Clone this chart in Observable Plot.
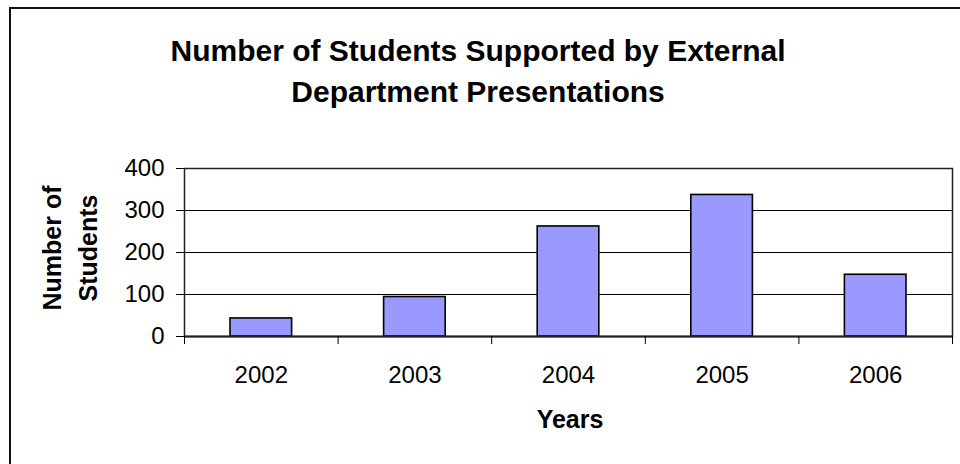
<!DOCTYPE html>
<html>
<head>
<meta charset="utf-8">
<script src="https://cdn.jsdelivr.net/npm/d3@7"></script>
<script src="https://cdn.jsdelivr.net/npm/@observablehq/plot@0.6"></script>
<style>
  html, body { margin: 0; padding: 0; background: #fff; }
  #wrap { position: relative; width: 960px; height: 464px; overflow: hidden; font-family: "Liberation Sans", Arial, sans-serif; color: #000; }
  #frame { position: absolute; left: 9px; top: 7px; width: 1000px; height: 1000px; border-left: 2px solid #111; border-top: 2px solid #111; }
  #title { position: absolute; left: 0; width: 956px; top: 30px; text-align: center; font-weight: bold; font-size: 30px; line-height: 41px; }
  #xlab { position: absolute; left: 470px; width: 200px; top: 405px; text-align: center; font-weight: bold; font-size: 25px; }
  #ylab { position: absolute; left: 70px; top: 248px; transform: translate(-50%, -50%) rotate(-90deg); text-align: center; white-space: nowrap; font-weight: bold; font-size: 25px; line-height: 36px; }
  #chart { position: absolute; left: 0; top: 0; }
</style>
</head>
<body>
<div id="wrap">
  <div id="chart"></div>
  <div id="frame"></div>
  <div id="title">Number of Students Supported by External<br>Department Presentations</div>
  <div id="ylab">Number of<br>Students</div>
  <div id="xlab">Years</div>
</div>
<script>
const years = [2002, 2003, 2004, 2005, 2006];
const students = [43, 94, 262, 337, 147];
const yTicks = [0, 100, 200, 300, 400];
const gridValues = [100, 200, 300];

const data = years.map((year, i) => ({year, value: students[i]}));
const boundaries = [...years, years[years.length - 1] + 1];

const chart = Plot.plot({
  width: 960,
  height: 464,
  marginTop: 168,
  marginBottom: 128,
  marginLeft: 184,
  marginRight: 8,
  style: {fontFamily: "'Liberation Sans', Arial, sans-serif", fontSize: "24px", color: "#000", background: "transparent"},
  x: {type: "linear", domain: [years[0], years[years.length - 1] + 1], axis: null},
  y: {domain: [0, 400], axis: null},
  marks: [
    Plot.ruleY(gridValues, {stroke: "#000", strokeWidth: 1}),
    Plot.rectY(data, {x: "year", y: "value", interval: 1, insetLeft: 46, insetRight: 46, fill: "#9999FF", stroke: "#000", strokeWidth: 1.6}),
    Plot.frame({stroke: "#222", strokeWidth: 1.5}),
    Plot.ruleY([0], {stroke: "#222", strokeWidth: 2}),
    Plot.axisY({ticks: yTicks, tickSize: 8, tickPadding: 12, fontSize: 24, stroke: "#000", strokeOpacity: 1, label: null}),
    Plot.axisX({ticks: boundaries, tickSize: 8, tickFormat: () => "", stroke: "#000", strokeOpacity: 1, label: null}),
    Plot.axisX({ticks: years.map(y => y + 0.5), tickSize: 0, tickPadding: 29, tickFormat: d => String(Math.floor(d)), fontSize: 24, label: null})
  ]
});
document.getElementById("chart").appendChild(chart);
</script>
</body>
</html>
